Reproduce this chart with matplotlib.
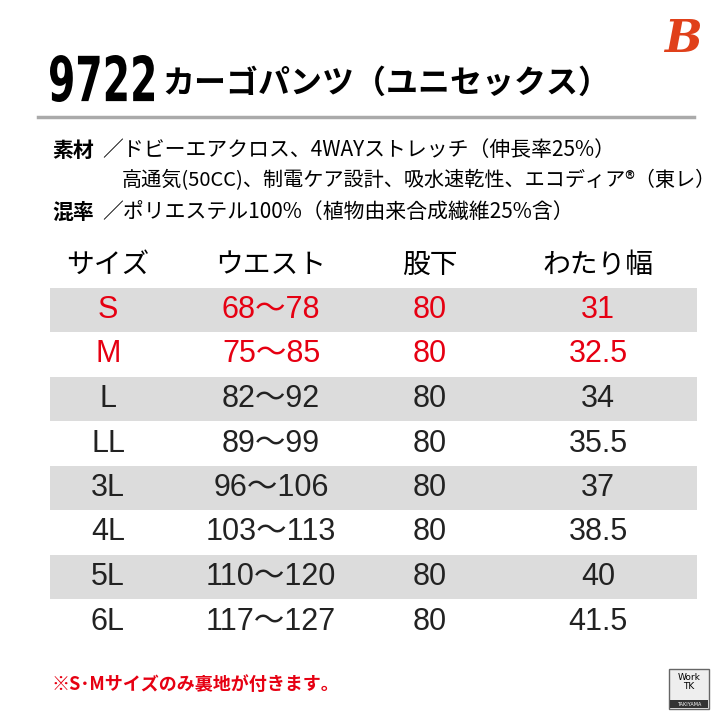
import matplotlib.pyplot as plt
from matplotlib.patches import Rectangle, PathPatch
from matplotlib.textpath import TextPath
from matplotlib.font_manager import FontProperties
from matplotlib.transforms import Affine2D

plt.rcParams['font.family'] = ['Noto Sans CJK JP', 'DejaVu Sans']

# table data
headers = ['サイズ', 'ウエスト', '股下', 'わたり幅']
sizes = ['S', 'M', 'L', 'LL', '3L', '4L', '5L', '6L']
waist = ['68〜78', '75〜85', '82〜92', '89〜99', '96〜106', '103〜113', '110〜120', '117〜127']
inseam = ['80'] * 8
thigh = ['31', '32.5', '34', '35.5', '37', '38.5', '40', '41.5']
red_rows = ['S', 'M']

material_lines = [
    ('素材', '／ドビーエアクロス、4WAYストレッチ（伸長率25%）'),
    ('', '高通気(50CC)、制電ケア設計、吸水速乾性、エコディア®（東レ）'),
    ('混率', '／ポリエステル100%（植物由来合成繊維25%含）'),
]

fig = plt.figure(figsize=(7.2, 7.2), dpi=100)
ax = fig.add_axes([0, 0, 1, 1])
ax.set_xlim(0, 720)
ax.set_ylim(720, 0)
ax.axis('off')

# title: condensed "9722" via a scaled text path
tp = TextPath((0, 0), '9722', size=60, prop=FontProperties(family='DejaVu Sans', weight='bold'))
bb = tp.get_extents()
sx = 104 / bb.width
sy = 47 / bb.height
tr = Affine2D().translate(-bb.x0, -bb.y0).scale(sx, -sy).translate(50, 102)
ax.add_patch(PathPatch(tr.transform_path(tp), color='black', lw=0))
ax.text(162, 84, 'カーゴパンツ（ユニセックス）', fontsize=23, fontweight='bold', va='center')
ax.plot([38, 694], [117, 117], color='#aaaaaa', lw=2.5)
ax.text(683, 40, 'B', fontsize=32, fontweight='bold', style='italic', color='#e0401a',
        ha='center', va='center', family=['DejaVu Serif'])

# material text
for i, (lab, txt) in enumerate(material_lines):
    y = 150 + i * 31
    if lab:
        ax.text(52, y, lab, fontsize=15, fontweight='bold', va='center')
        ax.text(102, y, txt, fontsize=15, va='center')
    else:
        ax.text(122, y, txt, fontsize=14.5, va='center')

# table
cols = [108, 271, 430, 598]
for x, h in zip(cols, headers):
    ax.text(x, 265, h, fontsize=20, ha='center', va='center')

tfam = ['Liberation Sans', 'Noto Sans CJK JP']
row_h = 44.5
for i, s in enumerate(sizes):
    y = 310 + i * row_h
    if i % 2 == 0:
        ax.add_patch(Rectangle((50, y - row_h / 2), 647, row_h, color='#dcdcdc', lw=0))
    c = '#e60012' if s in red_rows else '#222222'
    for x, v in zip(cols, [s, waist[i], inseam[i], thigh[i]]):
        ax.text(x, y, v, fontsize=22, ha='center', va='center', color=c, family=tfam)

# footnote
ax.text(52, 684, '※S･Mサイズのみ裏地が付きます。', fontsize=13, fontweight='bold',
        color='#e60012', va='center')

# small logo
ax.add_patch(Rectangle((669, 669), 40, 40, facecolor='#eeeeee', edgecolor='#666666', lw=1))
ax.text(689, 682, 'Work\nTK', fontsize=6.5, ha='center', va='center', linespacing=0.9,
        family=['DejaVu Sans'])
ax.add_patch(Rectangle((670, 700), 38, 8, color='#333333', lw=0))
ax.text(689, 704, 'TAKIYAMA', fontsize=3.5, color='white', ha='center', va='center',
        family=['DejaVu Sans'])

fig.savefig('out.png', dpi=100)
